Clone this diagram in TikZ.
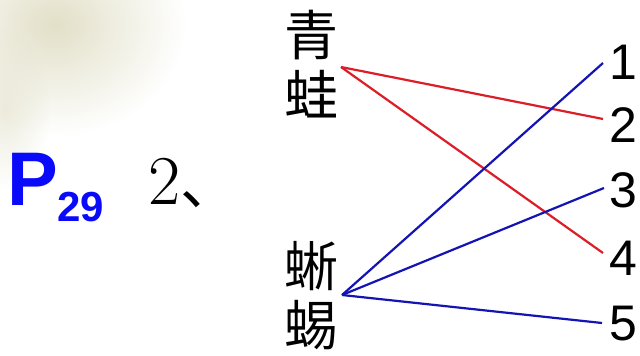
\documentclass[tikz,border=0pt]{standalone}
\usepackage{fontspec}
\usetikzlibrary{fadings}
\setmainfont{Liberation Sans}
\newfontfamily\cjk{Noto Sans CJK SC}
\newfontfamily\lm{Latin Modern Roman}
\definecolor{redline}{RGB}{220,30,40}
\definecolor{blueline}{RGB}{20,20,180}
\definecolor{blob}{RGB}{226,224,200}
\definecolor{pblue}{RGB}{10,10,250}
\tikzfading[name=softblob, inner color=transparent!0, outer color=transparent!100]
\begin{document}
\begin{tikzpicture}[x=1pt,y=-1pt,
  animal/.style={font=\cjk\fontsize{54}{54}\selectfont, inner sep=0pt, anchor=center},
  num/.style={font=\fontsize{50}{50}\selectfont, inner sep=0pt, anchor=center},
  rl/.style={draw=redline, line width=2.2pt},
  bl/.style={draw=blueline, line width=2.2pt},
  blobfill/.style={fill=blob, path fading=softblob}]
\useasboundingbox[fill=white] (0,0) rectangle (640,356);
% background blob
\fill[blobfill] (55,25) ellipse (130 and 110);
\fill[blobfill, opacity=0.6] (5,110) ellipse (45 and 80);
% labels left
\node[font=\bfseries\fontsize{76}{76}\selectfont, text=pblue, inner sep=0pt, anchor=base west] (P) at (7,205) {P};
\node[font=\bfseries\fontsize{42}{42}\selectfont, text=pblue, inner sep=0pt, anchor=base west] (sub) at (57,221) {29};
\node[inner sep=0pt, anchor=base west] (two) at (148,204) {\lm\fontsize{70}{70}\selectfont 2\cjk\fontsize{58}{58}\selectfont 、};
% animals
\node[animal] (qing) at (311,35) {青};
\node[animal] (wa) at (311,94) {蛙};
\node[animal] (xi) at (311,266) {蜥};
\node[animal] (yi) at (311,325) {蜴};
% numbers
\node[num] (n1) at (623,62) {1};
\node[num] (n2) at (623,125) {2};
\node[num] (n3) at (623,190) {3};
\node[num] (n4) at (623,258) {4};
\node[num] (n5) at (623,324) {5};
% endpoints
\coordinate (F) at (341,67);
\coordinate (L) at (342,295);
\coordinate (e1) at (603,63);
\coordinate (e2) at (603,119);
\coordinate (e3) at (604,188);
\coordinate (e4) at (603,253);
\coordinate (e5) at (602,323);
\draw[rl] (F) -- (e2);
\draw[rl] (F) -- (e4);
\draw[bl] (L) -- (e1);
\draw[bl] (L) -- (e3);
\draw[bl] (L) -- (e5);
\end{tikzpicture}
\end{document}
